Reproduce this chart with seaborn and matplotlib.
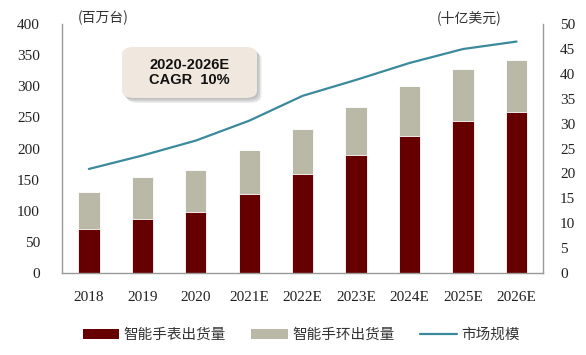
import numpy as np
import pandas as pd
import matplotlib
matplotlib.use("Agg")
import matplotlib.pyplot as plt
import seaborn as sns
from matplotlib.patches import FancyBboxPatch, Patch
from matplotlib.lines import Line2D

years = ["2018", "2019", "2020", "2021E", "2022E", "2023E", "2024E", "2025E", "2026E"]
watch = [70, 87, 98, 127, 159, 190, 220, 245, 258]
band = [60, 68, 67, 70, 72, 77, 80, 83, 85]
market = [20.9, 23.6, 26.6, 30.6, 35.6, 38.8, 42.2, 45.0, 46.5]

left_ticks = [0, 50, 100, 150, 200, 250, 300, 350, 400]
right_ticks = [0, 5, 10, 15, 20, 25, 30, 35, 40, 45, 50]

sns.set_theme(style="white")
plt.rcParams['font.family'] = ['Liberation Serif', 'Noto Sans CJK SC', 'DejaVu Sans']

df = pd.DataFrame({"year": years, "watch": watch, "band": band})
df["total"] = df["watch"] + df["band"]
df["x"] = np.arange(len(years))

C_WATCH = "#660000"
C_BAND = "#BAB9A7"
C_LINE = "#3A8A9C"
TXT = "#222222"

fig = plt.figure(figsize=(5.86, 3.55), dpi=100)
ax = fig.add_axes([0.106, 0.231, 0.821, 0.701])

sns.barplot(data=df, x="year", y="total", color=C_BAND, width=0.4, ax=ax,
            saturation=1, edgecolor="white", linewidth=0.6)
sns.barplot(data=df, x="year", y="watch", color=C_WATCH, width=0.4, ax=ax,
            saturation=1, edgecolor="white", linewidth=0.6)

ax.set_xlim(-0.5, len(years) - 0.5)
ax.set_ylim(0, 400)
ax.set_yticks(left_ticks)
ax.set_yticklabels([str(t) for t in left_ticks], fontsize=11, color=TXT)
ax.set_xticks(np.arange(len(years)))
ax.set_xticklabels(years, fontsize=11, color=TXT)
ax.set_xticks(np.arange(len(years) + 1) - 0.5, minor=True)
ax.tick_params(axis="x", which="major", length=0, pad=13)
ax.tick_params(axis="x", which="minor", length=5, width=0.8, color="#888888", direction="out")
ax.tick_params(axis="y", length=0, pad=16)
ax.set_xlabel("")
ax.set_ylabel("")
for s in ["top", "right"]:
    ax.spines[s].set_visible(False)
for s in ["left", "bottom"]:
    ax.spines[s].set_color("#999999")
    ax.spines[s].set_linewidth(1.0)

ax2 = ax.twinx()
sns.lineplot(x=df["x"].values, y=market, ax=ax2, color=C_LINE, linewidth=1.6)
ax2.set_ylim(0, 50)
ax2.set_xlim(-0.5, len(years) - 0.5)
ax2.set_yticks(right_ticks)
ax2.set_yticklabels([str(t) for t in right_ticks], fontsize=11, color=TXT)
ax2.tick_params(axis="y", length=0, pad=12)
for s in ["top", "left", "bottom"]:
    ax2.spines[s].set_visible(False)
ax2.spines["right"].set_color("#999999")
ax2.spines["right"].set_linewidth(1.0)

cjk = ['Noto Sans CJK SC', 'DejaVu Sans']
fig.text(78 / 586, 1 - 18 / 355, "(百万台)", family=cjk, fontsize=10, color="#333333", va="center", ha="left")
fig.text(502 / 586, 1 - 18 / 355, "(十亿美元)", family=cjk, fontsize=10, color="#333333", va="center", ha="right")

# CAGR box
bx0, by0, bw, bh = 122 / 586, 1 - 98 / 355, 135 / 586, 51 / 355
for k, a in [(1, 0.18), (2, 0.18), (3, 0.18)]:
    shadow = FancyBboxPatch((bx0 + 0.0025 * k, by0 - 0.0045 * k), bw, bh,
                            boxstyle="round,pad=0,rounding_size=0.02",
                            transform=fig.transFigure, facecolor="#777777", edgecolor="none",
                            alpha=a, zorder=5)
    fig.patches.append(shadow)
box = FancyBboxPatch((bx0, by0), bw, bh, boxstyle="round,pad=0,rounding_size=0.02",
                     transform=fig.transFigure, facecolor="#F0E8DE", edgecolor="none", zorder=6)
fig.patches.append(box)
fig.text(bx0 + bw / 2, by0 + bh / 2, "2020-2026E\nCAGR  10%", family=['Liberation Sans', 'DejaVu Sans'],
         fontsize=10.5, fontweight="bold", ha="center", va="center", linespacing=1.1, zorder=7, color="#111111")

# Legend
handles = [Patch(facecolor=C_WATCH, edgecolor="none"), Patch(facecolor=C_BAND, edgecolor="none"),
           Line2D([0], [0], color=C_LINE, linewidth=1.6)]
labels = ["智能手表出货量", "智能手环出货量", "市场规模"]
fig.legend(handles, labels, loc="center", bbox_to_anchor=(301 / 586, 1 - 335 / 355), ncol=3, frameon=False,
           prop={"family": cjk, "size": 10.5}, handlelength=2.5, handleheight=0.62, columnspacing=1.75,
           handletextpad=0.3, labelcolor="#333333")

fig.savefig("out.png", dpi=100)
